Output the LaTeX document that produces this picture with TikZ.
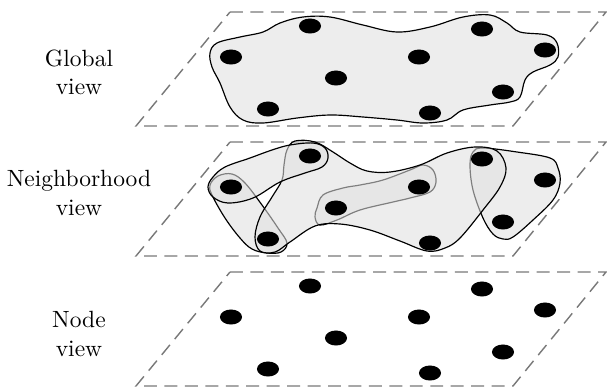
\documentclass[tikz,border=0pt]{standalone}
\usepackage{tikz}
\usetikzlibrary{shapes.geometric}
\definecolor{planeGray}{RGB}{120,120,120}
\definecolor{hoodFill}{RGB}{224,224,224}
\tikzset{
  plane edge/.style={draw=planeGray,dash pattern=on 5.5pt off 3.2pt,line width=0.6pt},
  hood blob/.style={draw=black,line width=0.5pt,fill=hoodFill,fill opacity=0.57},
  graph dot/.style={ellipse,fill=black,inner sep=0pt,minimum width=9.4pt,minimum height=6.4pt},
  view label/.style={align=center,font=\normalsize}
}
\newcommand{\dotlist}{a/310/26,b/482/29,c/231/57,d/419/57,e/545/50,f/336/78,g/503/92,h/268/109,i/430/113}

\begin{document}
\begin{tikzpicture}[x=0.4255pt,y=-0.4255pt]
  \useasboundingbox (0,0) rectangle (607,387);
  \node[view label] (globalLabel) at (79,72) {Global\\view};
  \node[view label] (hoodLabel) at (79,193) {Neighborhood\\view};
  \node[view label] (nodeLabel) at (79,334) {Node\\view};

  % global view
  \draw[plane edge] (230,12) -- (606,12) -- (513,126) -- (136,126) -- cycle;
  \draw[hood blob] plot[smooth cycle,tension=0.6] coordinates {(210,53) (217,43) (240,37) (263,32) (280,23) (303,17) (330,17) (363,25) (397,32) (430,27) (463,17) (490,15) (507,23) (520,32) (547,35) (557,43) (558,57) (550,65) (533,72) (525,80) (520,97) (510,102) (490,105) (463,110) (447,120) (423,123) (397,120) (363,117) (330,115) (297,118) (263,123) (243,120) (230,107) (220,83) (212,67)};
  \foreach \n/\x/\y in \dotlist
    \node[graph dot] (glob-\n) at (\x,\y) {};

  % neighborhood view
  \begin{scope}[shift={(0,130)}]
    \draw[plane edge] (230,12) -- (606,12) -- (513,126) -- (136,126) -- cycle;
    \draw[hood blob] plot[smooth cycle,tension=0.6] coordinates {(210,55) (218,46) (232,44) (245,53) (262,75) (278,98) (287,113) (281,122) (267,123) (252,119) (240,108) (225,88) (212,65)};
    \draw[hood blob] plot[smooth cycle,tension=0.6] coordinates {(470,35) (473,22) (483,18) (517,22) (550,28) (558,38) (560,53) (553,70) (533,90) (513,107) (503,109) (493,104) (483,88) (473,60)};
    \draw[hood blob] plot[smooth cycle,tension=0.6] coordinates {(317,78) (323,65) (343,58) (360,55) (383,50) (410,40) (423,35) (433,40) (436,52) (430,62) (410,68) (393,72) (360,80) (337,90) (320,95) (315,87)};
    \draw[hood blob] plot[smooth cycle,tension=0.6] coordinates {(255,107) (260,87) (272,67) (282,50) (284,35) (287,20) (295,11) (315,12) (333,22) (350,33) (367,41) (390,42) (420,35) (447,23) (475,17) (497,21) (506,38) (500,57) (483,80) (460,108) (445,118) (427,121) (400,111) (370,100) (340,94) (315,96) (290,112) (275,122) (260,121)};
    \draw[hood blob] plot[smooth cycle,tension=0.6] coordinates {(213,47) (225,37) (250,28) (272,20) (290,15) (313,13) (325,18) (328,28) (322,37) (305,43) (280,52) (253,68) (228,73) (213,67) (208,57)};
    \foreach \n/\x/\y in \dotlist
      \node[graph dot] (hood-\n) at (\x,\y) {};
  \end{scope}

  % node view
  \begin{scope}[shift={(0,260)}]
    \draw[plane edge] (230,12) -- (606,12) -- (513,126) -- (136,126) -- cycle;
    \foreach \n/\x/\y in \dotlist
      \node[graph dot] (solo-\n) at (\x,\y) {};
  \end{scope}
\end{tikzpicture}
\end{document}
